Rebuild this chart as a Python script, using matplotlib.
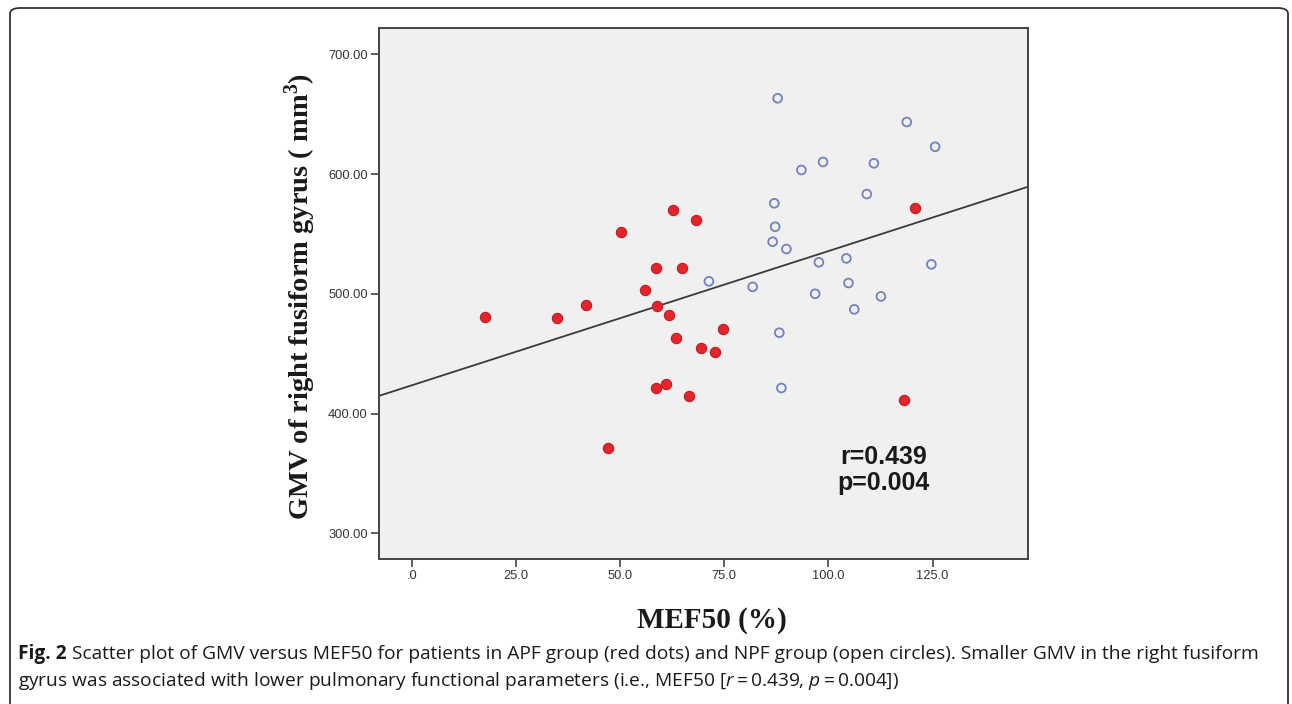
import matplotlib
matplotlib.use("Agg")
import matplotlib.pyplot as plt
from matplotlib.patches import FancyBboxPatch
import numpy as np

plt.rcParams["mathtext.fontset"] = "custom"
plt.rcParams["mathtext.rm"] = "Liberation Serif:bold"
plt.rcParams["mathtext.bf"] = "Liberation Serif:bold"
plt.rcParams["mathtext.it"] = "Open Sans:italic"

# APF group (red dots)
apf_mef50 = [17.5, 34.9, 41.9, 50.1, 55.9, 58.7, 58.8, 61.8, 62.7, 68.1, 64.9,
             63.4, 69.5, 72.7, 74.8, 58.6, 61.1, 66.4, 47.0, 118.1, 120.7]
apf_gmv = [480.9, 479.5, 490.4, 551.9, 503.2, 521.8, 490.0, 482.5, 570.2, 561.6, 521.8,
           463.1, 454.7, 451.8, 470.9, 421.6, 424.4, 414.9, 371.0, 411.6, 571.4]

# NPF group (open circles)
npf_mef50 = [87.8, 118.8, 125.6, 93.5, 98.7, 110.9, 109.2, 87.0, 87.2, 86.6, 89.9,
             97.7, 104.3, 124.7, 71.3, 81.8, 96.8, 104.8, 112.6, 106.2, 88.2, 88.7]
npf_gmv = [663.3, 643.5, 622.8, 603.4, 610.1, 609.0, 583.3, 575.6, 556.0, 543.5, 537.4,
           526.3, 529.6, 524.6, 510.4, 505.8, 500.0, 509.0, 497.8, 487.0, 467.5, 421.3]

# Fit line
fit_intercept = 423.6
fit_slope = 1.121

x_ticks = [0, 25, 50, 75, 100, 125]
x_ticklabels = [".0", "25.0", "50.0", "75.0", "100.0", "125.0"]
y_ticks = [300, 400, 500, 600, 700]
y_ticklabels = ["300.00", "400.00", "500.00", "600.00", "700.00"]

W, H = 1292, 704
fig = plt.figure(figsize=(W / 100, H / 100), dpi=100)
fig.patch.set_facecolor("white")

# outer frame with rounded corners (bottom runs off the image)
frame = FancyBboxPatch((10 / W, -0.2), (1288 - 10) / W, 1 - 8 / H + 0.2,
                       boxstyle="round,pad=0,rounding_size=0.008",
                       transform=fig.transFigure, fill=False,
                       edgecolor="#333333", linewidth=1.3, clip_on=False)
fig.patches.append(frame)

ax = fig.add_axes([379 / W, 1 - 559 / H, (1028 - 379) / W, (559 - 28) / H])
ax.set_facecolor("#f0f0f0")
ax.set_xlim(-7.9, 147.9)
ax.set_ylim(278.5, 722)

xs = np.array(ax.get_xlim())
ax.plot(xs, fit_intercept + fit_slope * xs, color="#3a3a3a", linewidth=1.3, zorder=2)

ax.scatter(apf_mef50, apf_gmv, s=55, color="#e5252b", edgecolors="#bb1d23",
           linewidths=0.8, zorder=3)
ax.scatter(npf_mef50, npf_gmv, s=40, facecolors="none", edgecolors="#7282c0",
           linewidths=1.3, zorder=3)

ax.set_xticks(x_ticks)
ax.set_xticklabels(x_ticklabels)
ax.set_yticks(y_ticks)
ax.set_yticklabels(y_ticklabels)
for sp in ax.spines.values():
    sp.set_color("#444444")
    sp.set_linewidth(1.4)
ax.tick_params(axis="both", direction="out", length=6, width=1.2, color="#444444",
               labelsize=9.3, labelcolor="#333333", pad=2)
for lab in ax.get_xticklabels() + ax.get_yticklabels():
    lab.set_family(["Liberation Sans", "DejaVu Sans"])

ax.text(0.778, 0.1676, "r=0.439\np=0.004", transform=ax.transAxes, ha="center",
        va="center", fontsize=18, fontweight="bold", family=["Liberation Sans"],
        color="#1a1a1a", linespacing=1.12)

fig.text(300 / W, 1 - 297 / H, r"GMV of right fusiform gyrus ( mm$^{\mathbf{3}}$)", rotation=90,
         ha="center", va="center", fontsize=20.5, fontweight="bold",
         family=["Liberation Serif"], color="#1a1a1a")
fig.text(712 / W, 1 - 620 / H, "MEF50 (%)", ha="center", va="center", fontsize=21,
         fontweight="bold", family=["Liberation Serif"], color="#1a1a1a")

cap_font = ["Open Sans", "DejaVu Sans"]
cap_size = 13.8
t1 = fig.text(18 / W, 1 - 659 / H, "Fig. 2", ha="left", va="baseline", fontsize=cap_size,
              fontweight="bold", family=cap_font, color="#1a1a1a")
fig.canvas.draw()
r = fig.canvas.get_renderer()
bb = t1.get_window_extent(r)
fig.text((bb.x1 + 5) / W, 1 - 659 / H,
         "Scatter plot of GMV versus MEF50 for patients in APF group (red dots) and NPF group (open circles). Smaller GMV in the right fusiform",
         ha="left", va="baseline", fontsize=cap_size, family=cap_font, color="#1a1a1a")
fig.text(18 / W, 1 - 686 / H,
         "gyrus was associated with lower pulmonary functional parameters (i.e., MEF50 [$r$\u2009=\u20090.439, $p$\u2009=\u20090.004])",
         ha="left", va="baseline", fontsize=cap_size, family=cap_font, color="#1a1a1a")

fig.savefig("out.png", dpi=100, facecolor="white")
